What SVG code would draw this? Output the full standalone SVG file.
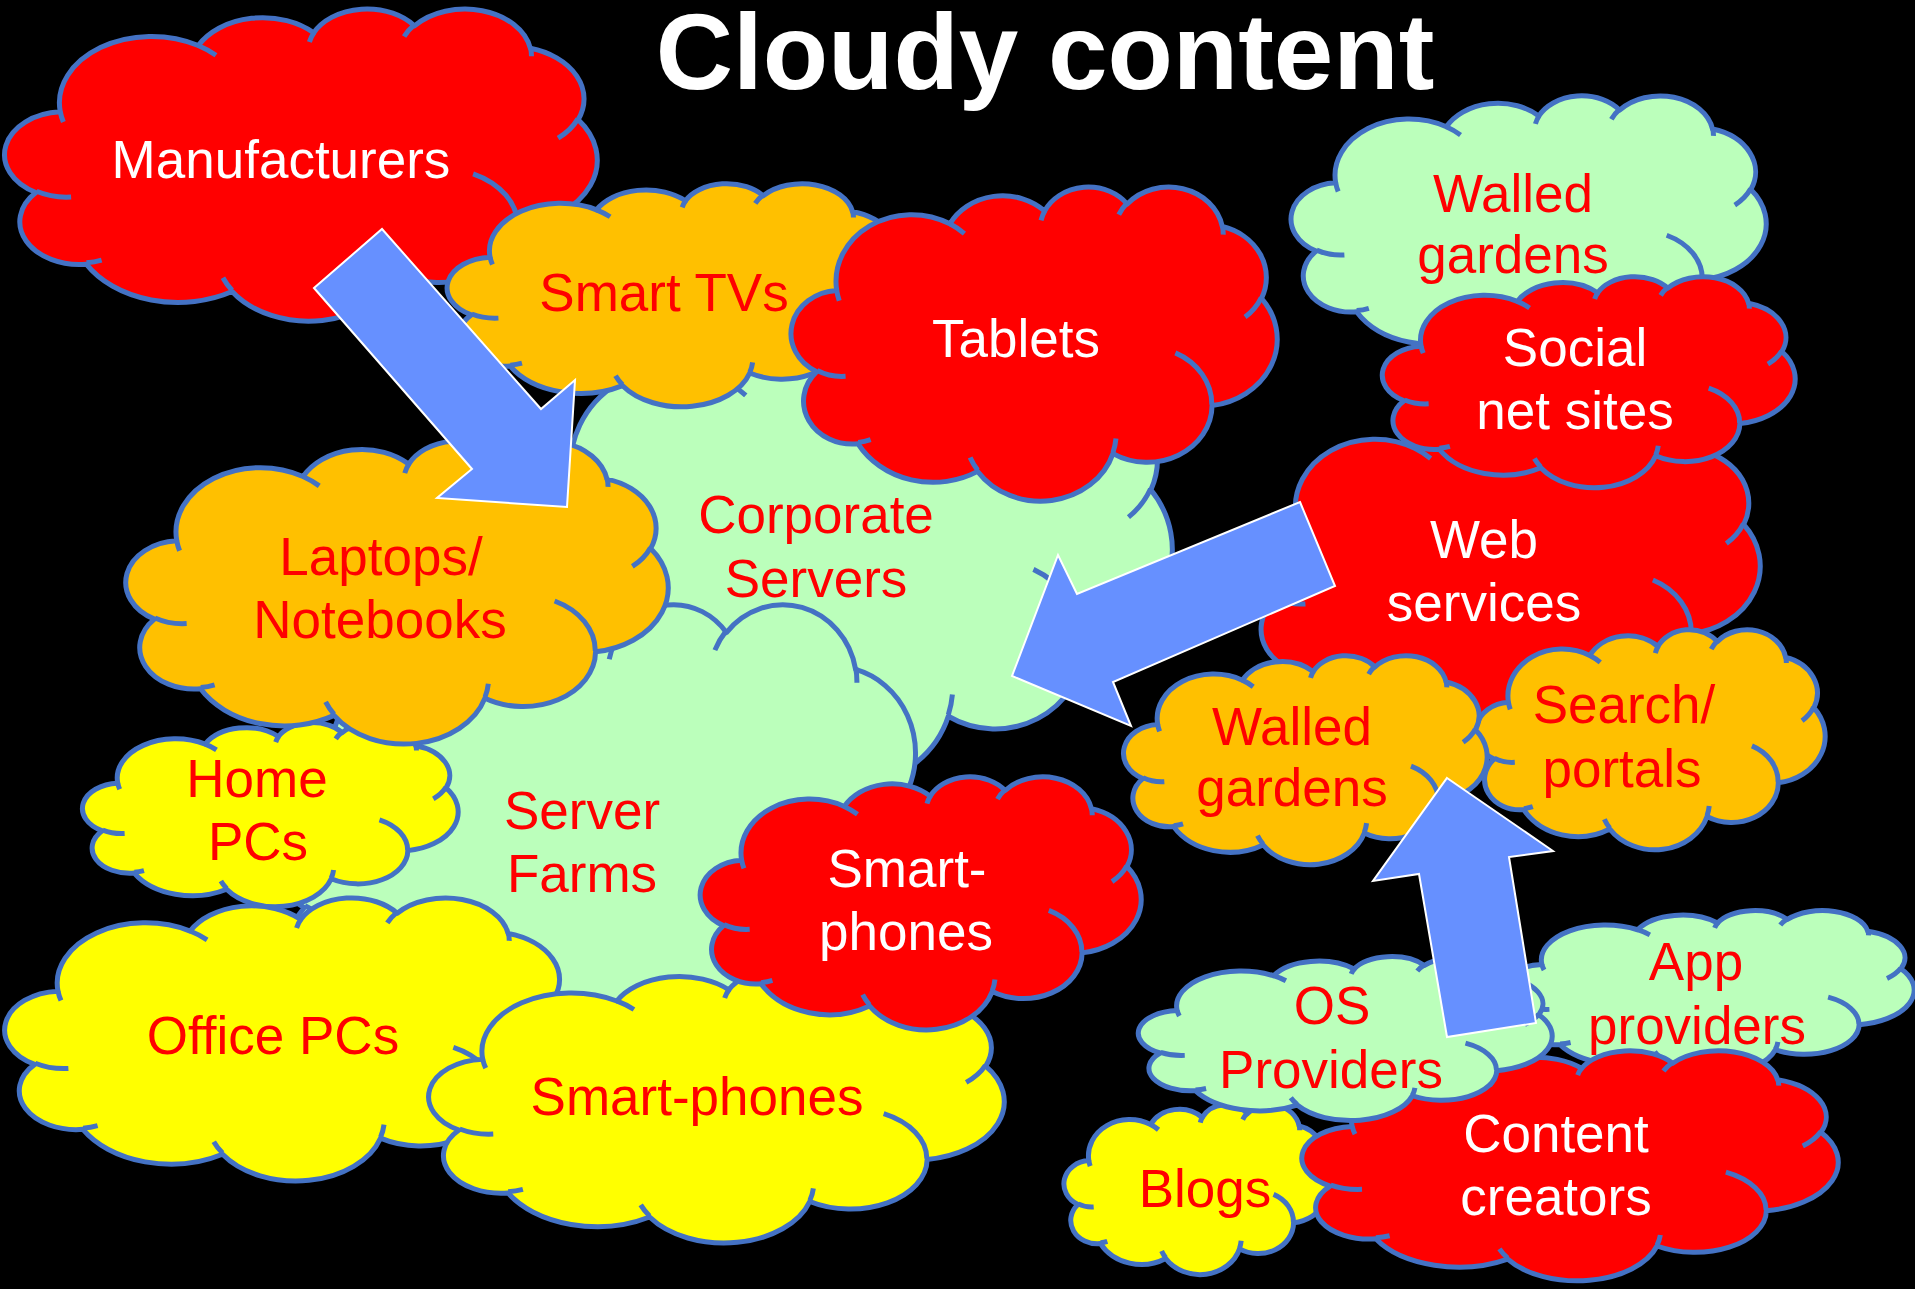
<svg xmlns="http://www.w3.org/2000/svg" xmlns:xlink="http://www.w3.org/1999/xlink" width="1915" height="1289" viewBox="0 0 1915 1289">
  <style>
    .cl path { stroke: #4472c4; stroke-width: 5; stroke-linejoin: round; vector-effect: non-scaling-stroke; }
    .cl .inner { fill: none; }
    .red { fill: #ff0000; }
    .org { fill: #ffc000; }
    .yel { fill: #ffff00; }
    .grn { fill: #bbffbb; }
    text { font-family: "Liberation Sans", Arial, sans-serif; font-size: 53px; text-anchor: middle; }
    .tr { fill: #ff0000; }
    .tw { fill: #ffffff; }
    .title { font-size: 107px; font-weight: bold; fill: #ffffff; }
    .arrow { fill: #6690ff; stroke: #ffffff; stroke-width: 2; stroke-linejoin: miter; }
  </style>
  <defs>
    <!-- cloud outline in a 100 x 100 box; inner hooks drawn as open arcs -->
    <g id="cloud" class="cl">
      <path d="M9.028 33.264 A15.632 21.273 0 0 1 32.418 12.041 A12.345 16.822 0 0 1 51.979 7.946 A10.104 13.762 0 0 1 69.056 5.743 A11.243 15.266 0 0 1 88.699 12.905 A12.345 16.836 0 0 1 96.803 35.785 A15.683 21.343 0 0 1 86.584 69.910 A13.391 18.211 0 0 1 66.102 85.213 A15.630 21.331 0 0 1 38.151 90.887 A17.870 24.405 0 0 1 13.440 82.106 A10.093 13.699 0 0 1 4.898 59.137 A10.058 13.762 0 0 1 9.028 33.264 Z"/>
      <path class="inner" d="M10.863 60.595 A10.058 13.762 0 0 1 5.000 58.751 M16.037 80.785 A10.093 13.699 0 0 1 13.469 81.669 M38.144 90.486 A15.630 21.331 0 0 1 36.597 86.457 M66.729 80.442 A15.630 21.331 0 0 1 66.112 84.863 M79.002 53.134 A13.391 18.211 0 0 1 86.529 69.652 M96.755 35.542 A12.345 16.836 0 0 1 93.401 41.738 M88.713 12.560 A11.243 15.266 0 0 1 88.890 15.485 M67.310 9.148 A11.243 15.266 0 0 1 69.025 5.421 M51.252 10.926 A10.104 13.762 0 0 1 52.084 7.708 M32.407 12.019 A15.632 21.273 0 0 1 35.418 15.142 M9.553 36.549 A15.632 21.273 0 0 1 9.029 33.267"/>
    </g>
  </defs>

  <rect width="1915" height="1289" fill="#000000"/>

  <g id="corporate-servers">
    <use href="#cloud" class="grn" transform="translate(512 326) scale(6.6 4.58)"/>
    <text class="tr" x="816" y="533">Corporate</text>
    <text class="tr" x="816" y="597">Servers</text>
  </g>
  <g id="server-farms">
    <use href="#cloud" class="grn" transform="translate(272 603) scale(6.58 5.15)"/>
    <text class="tr" x="582" y="829">Server</text>
    <text class="tr" x="582" y="892">Farms</text>
  </g>
  <g id="home-pcs">
    <use href="#cloud" class="yel" transform="translate(84 722) scale(3.74 1.84)"/>
    <text class="tr" x="257" y="797">Home</text>
    <text class="tr" x="258" y="860">PCs</text>
  </g>
  <g id="office-pcs">
    <use href="#cloud" class="yel" transform="translate(7 897) scale(5.65 2.83)"/>
    <text class="tr" x="273" y="1054">Office PCs</text>
  </g>
  <g id="smartphones-yellow">
    <use href="#cloud" class="yel" transform="translate(431 968) scale(5.73 2.74)"/>
    <text class="tr" x="697" y="1115">Smart-phones</text>
  </g>
  <g id="smartphones-red">
    <use href="#cloud" class="red" transform="translate(702 776) scale(4.39 2.53)"/>
    <text class="tw" x="907" y="887">Smart-</text>
    <text class="tw" x="906" y="950">phones</text>
  </g>
  <g id="laptops">
    <use href="#cloud" class="org" transform="translate(128 440) scale(5.4 3.03)"/>
    <text class="tr" x="381" y="575">Laptops/</text>
    <text class="tr" x="380" y="638">Notebooks</text>
  </g>
  <g id="manufacturers">
    <use href="#cloud" class="red" transform="translate(7 8) scale(5.9 3.12)"/>
    <text class="tw" x="281" y="178">Manufacturers</text>
  </g>
  <g id="smart-tvs">
    <use href="#cloud" class="org" transform="translate(449 183) scale(4.55 2.23)"/>
    <text class="tr" x="664" y="311">Smart TVs</text>
  </g>
  <g id="tablets">
    <use href="#cloud" class="red" transform="translate(793 186) scale(4.84 3.14)"/>
    <text class="tw" x="1016" y="357">Tablets</text>
  </g>
  <g id="walled-gardens-top">
    <use href="#cloud" class="grn" transform="translate(1293 95) scale(4.73 2.64)"/>
    <text class="tr" x="1513" y="212">Walled</text>
    <text class="tr" x="1513" y="273">gardens</text>
  </g>
  <g id="web-services">
    <use href="#cloud" class="red" transform="translate(1250 410) scale(5.1 3.2)"/>
    <text class="tw" x="1484" y="558">Web</text>
    <text class="tw" x="1484" y="621">services</text>
  </g>
  <g id="social-net-sites">
    <use href="#cloud" class="red" transform="translate(1384 276) scale(4.11 2.11)"/>
    <text class="tw" x="1575" y="366">Social</text>
    <text class="tw" x="1575" y="429">net sites</text>
  </g>
  <g id="search-portals">
    <use href="#cloud" class="org" transform="translate(1477 629) scale(3.48 2.2)"/>
    <text class="tr" x="1624" y="723">Search/</text>
    <text class="tr" x="1622" y="787">portals</text>
  </g>
  <g id="walled-gardens-mid">
    <use href="#cloud" class="org" transform="translate(1125 655) scale(3.62 2.09)"/>
    <text class="tr" x="1292" y="745">Walled</text>
    <text class="tr" x="1292" y="806">gardens</text>
  </g>
  <g id="blogs">
    <use href="#cloud" class="yel" transform="translate(1065 1104) scale(2.64 1.7)"/>
    <text class="tr" x="1205" y="1207">Blogs</text>
  </g>
  <g id="app-providers">
    <use href="#cloud" class="grn" transform="translate(1505 910) scale(4.09 1.64)"/>
    <text class="tr" x="1696" y="980">App</text>
    <text class="tr" x="1697" y="1044">providers</text>
  </g>
  <g id="content-creators">
    <use href="#cloud" class="red" transform="translate(1304 1050) scale(5.34 2.3)"/>
    <text class="tw" x="1556" y="1152">Content</text>
    <text class="tw" x="1556" y="1215">creators</text>
  </g>
  <g id="os-providers">
    <use href="#cloud" class="grn" transform="translate(1140 956) scale(4.12 1.64)"/>
    <text class="tr" x="1332" y="1024">OS</text>
    <text class="tr" x="1331" y="1088">Providers</text>
  </g>

  <g id="connectors">
    <polygon class="arrow" points="314,288 382,229 541,409 575,380 567,507 437,498 472,469"/>
    <polygon class="arrow" points="1300,502 1335,586 1113,682 1131,726 1012,676 1058,555 1077,594"/>
    <polygon class="arrow" points="1447,778 1553,851 1509,857 1536,1023 1447,1037 1419,874 1373,881"/>
  </g>

  <text class="title" x="1045" y="89">Cloudy content</text>
</svg>
